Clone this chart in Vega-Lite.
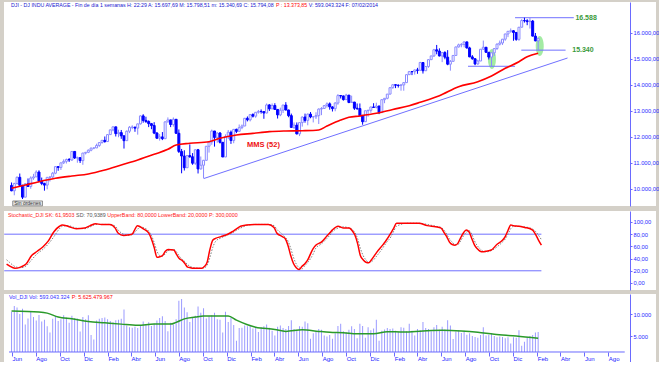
{
  "$schema": "https://vega.github.io/schema/vega-lite/v6.json",
  "background": "#d4d0c8",
  "padding": {"left": 3, "top": 2, "right": 0, "bottom": 0},
  "spacing": 4,
  "config": {
    "locale": {"number": {"decimal": ",", "thousands": ".", "grouping": [3], "currency": ["", ""]}},
    "view": {"stroke": null, "fill": "white"},
    "font": "Liberation Sans",
    "title": {"anchor": "start", "frame": "group", "fontSize": 5.25, "fontWeight": "normal", "font": "Liberation Sans"},
    "axis": {"labelFont": "Liberation Sans", "labelFontSize": 5.8, "labelColor": "#2a2aff", "domainColor": "#6a6aff", "tickColor": "#6a6aff", "grid": false, "tickSize": 2, "labelPadding": 1, "labelOverlap": false}
  },
  "datasets": {
    "px": [
      {"d":"2010-05-31","o":10136,"h":10250,"l":9914,"c":9931,"v":10500},
      {"d":"2010-06-07","o":9931,"h":10240,"l":9758,"c":10211,"v":11800},
      {"d":"2010-06-14","o":10211,"h":10482,"l":10168,"c":10450,"v":11500},
      {"d":"2010-06-21","o":10450,"h":10595,"l":10088,"c":10143,"v":10000},
      {"d":"2010-06-28","o":10143,"h":10160,"l":9614,"c":9686,"v":11200},
      {"d":"2010-07-05","o":9686,"h":10229,"l":9686,"c":10198,"v":7600},
      {"d":"2010-07-12","o":10198,"h":10405,"l":10078,"c":10097,"v":9000},
      {"d":"2010-07-19","o":10097,"h":10487,"l":10009,"c":10424,"v":10600},
      {"d":"2010-07-26","o":10424,"h":10583,"l":10353,"c":10466,"v":9300},
      {"d":"2010-08-02","o":10466,"h":10720,"l":10466,"c":10653,"v":8500},
      {"d":"2010-08-09","o":10653,"h":10719,"l":10258,"c":10303,"v":9800},
      {"d":"2010-08-16","o":10303,"h":10440,"l":10147,"c":10213,"v":8300},
      {"d":"2010-08-23","o":10213,"h":10242,"l":9936,"c":10150,"v":8700},
      {"d":"2010-08-30","o":10150,"h":10462,"l":9989,"c":10448,"v":7200},
      {"d":"2010-09-06","o":10448,"h":10491,"l":10288,"c":10462,"v":5800},
      {"d":"2010-09-13","o":10462,"h":10656,"l":10420,"c":10607,"v":8900},
      {"d":"2010-09-20","o":10607,"h":10860,"l":10570,"c":10860,"v":9500},
      {"d":"2010-09-27","o":10860,"h":10880,"l":10700,"c":10829,"v":8400},
      {"d":"2010-10-04","o":10829,"h":11010,"l":10732,"c":11006,"v":8800},
      {"d":"2010-10-11","o":11006,"h":11140,"l":10960,"c":11063,"v":9700},
      {"d":"2010-10-18","o":11063,"h":11170,"l":10980,"c":11133,"v":9200},
      {"d":"2010-10-25","o":11133,"h":11190,"l":11040,"c":11118,"v":8000},
      {"d":"2010-11-01","o":11118,"h":11452,"l":11080,"c":11445,"v":9600},
      {"d":"2010-11-08","o":11445,"h":11451,"l":11155,"c":11193,"v":9100},
      {"d":"2010-11-15","o":11193,"h":11245,"l":11010,"c":11204,"v":9000},
      {"d":"2010-11-22","o":11204,"h":11220,"l":11000,"c":11092,"v":6000},
      {"d":"2010-11-29","o":11092,"h":11390,"l":10930,"c":11382,"v":9300},
      {"d":"2010-12-06","o":11382,"h":11425,"l":11330,"c":11410,"v":8800},
      {"d":"2010-12-13","o":11410,"h":11520,"l":11380,"c":11492,"v":9700},
      {"d":"2010-12-20","o":11492,"h":11590,"l":11450,"c":11573,"v":5200},
      {"d":"2010-12-27","o":11573,"h":11600,"l":11530,"c":11578,"v":4200},
      {"d":"2011-01-03","o":11578,"h":11742,"l":11578,"c":11674,"v":8500},
      {"d":"2011-01-10","o":11674,"h":11800,"l":11620,"c":11787,"v":8900},
      {"d":"2011-01-17","o":11787,"h":11880,"l":11745,"c":11872,"v":9100},
      {"d":"2011-01-24","o":11872,"h":12020,"l":11780,"c":11824,"v":9200},
      {"d":"2011-01-31","o":11824,"h":12100,"l":11820,"c":12092,"v":8800},
      {"d":"2011-02-07","o":12092,"h":12285,"l":12080,"c":12273,"v":8400},
      {"d":"2011-02-14","o":12273,"h":12400,"l":12220,"c":12391,"v":8100},
      {"d":"2011-02-21","o":12391,"h":12391,"l":12020,"c":12130,"v":8600},
      {"d":"2011-02-28","o":12130,"h":12280,"l":11990,"c":12169,"v":8700},
      {"d":"2011-03-07","o":12169,"h":12270,"l":11930,"c":12044,"v":8900},
      {"d":"2011-03-14","o":12044,"h":12060,"l":11555,"c":11859,"v":11000},
      {"d":"2011-03-21","o":11859,"h":12250,"l":11859,"c":12221,"v":7400},
      {"d":"2011-03-28","o":12221,"h":12420,"l":12150,"c":12376,"v":7000},
      {"d":"2011-04-04","o":12376,"h":12450,"l":12300,"c":12380,"v":6900},
      {"d":"2011-04-11","o":12380,"h":12390,"l":12200,"c":12342,"v":7100},
      {"d":"2011-04-18","o":12342,"h":12510,"l":12090,"c":12505,"v":6800},
      {"d":"2011-04-25","o":12505,"h":12830,"l":12480,"c":12811,"v":7400},
      {"d":"2011-05-02","o":12811,"h":12876,"l":12550,"c":12638,"v":8300},
      {"d":"2011-05-09","o":12638,"h":12780,"l":12540,"c":12596,"v":7700},
      {"d":"2011-05-16","o":12596,"h":12640,"l":12380,"c":12512,"v":8100},
      {"d":"2011-05-23","o":12512,"h":12540,"l":12300,"c":12441,"v":7300},
      {"d":"2011-05-30","o":12441,"h":12570,"l":12110,"c":12151,"v":7800},
      {"d":"2011-06-06","o":12151,"h":12190,"l":11940,"c":11952,"v":8500},
      {"d":"2011-06-13","o":11952,"h":12110,"l":11860,"c":12004,"v":9100},
      {"d":"2011-06-20","o":12004,"h":12190,"l":11880,"c":11934,"v":9500},
      {"d":"2011-06-27","o":11934,"h":12600,"l":11930,"c":12582,"v":8400},
      {"d":"2011-07-04","o":12582,"h":12753,"l":12560,"c":12657,"v":6100},
      {"d":"2011-07-11","o":12657,"h":12657,"l":12380,"c":12480,"v":8000},
      {"d":"2011-07-18","o":12480,"h":12751,"l":12400,"c":12681,"v":7600},
      {"d":"2011-07-25","o":12681,"h":12690,"l":12120,"c":12143,"v":8800},
      {"d":"2011-08-01","o":12143,"h":12290,"l":11384,"c":11445,"v":13000},
      {"d":"2011-08-08","o":11445,"h":11540,"l":10604,"c":11269,"v":13400},
      {"d":"2011-08-15","o":11269,"h":11490,"l":10710,"c":10818,"v":11500},
      {"d":"2011-08-22","o":10818,"h":11300,"l":10818,"c":11285,"v":10400},
      {"d":"2011-08-29","o":11285,"h":11717,"l":11200,"c":11240,"v":8200},
      {"d":"2011-09-05","o":11240,"h":11380,"l":10930,"c":10992,"v":9300},
      {"d":"2011-09-12","o":10992,"h":11520,"l":10930,"c":11509,"v":9600},
      {"d":"2011-09-19","o":11509,"h":11540,"l":10597,"c":10771,"v":11700},
      {"d":"2011-09-26","o":10771,"h":11250,"l":10750,"c":10913,"v":10300},
      {"d":"2011-10-03","o":10913,"h":11120,"l":10404,"c":11103,"v":11300},
      {"d":"2011-10-10","o":11103,"h":11650,"l":11103,"c":11644,"v":9000},
      {"d":"2011-10-17","o":11644,"h":11810,"l":11400,"c":11809,"v":9500},
      {"d":"2011-10-24","o":11809,"h":12284,"l":11700,"c":12231,"v":9700},
      {"d":"2011-10-31","o":12231,"h":12231,"l":11630,"c":11983,"v":10300},
      {"d":"2011-11-07","o":11983,"h":12180,"l":11780,"c":12153,"v":8800},
      {"d":"2011-11-14","o":12153,"h":12190,"l":11750,"c":11796,"v":8700},
      {"d":"2011-11-21","o":11796,"h":11800,"l":11230,"c":11231,"v":5800},
      {"d":"2011-11-28","o":11231,"h":12100,"l":11231,"c":12019,"v":10500},
      {"d":"2011-12-05","o":12019,"h":12270,"l":11920,"c":12184,"v":8200},
      {"d":"2011-12-12","o":12184,"h":12250,"l":11735,"c":11867,"v":9200},
      {"d":"2011-12-19","o":11867,"h":12300,"l":11760,"c":12294,"v":7500},
      {"d":"2011-12-26","o":12294,"h":12320,"l":12150,"c":12218,"v":3900},
      {"d":"2012-01-02","o":12218,"h":12480,"l":12218,"c":12360,"v":6800},
      {"d":"2012-01-09","o":12360,"h":12480,"l":12300,"c":12422,"v":6900},
      {"d":"2012-01-16","o":12422,"h":12725,"l":12420,"c":12720,"v":7400},
      {"d":"2012-01-23","o":12720,"h":12790,"l":12600,"c":12660,"v":7200},
      {"d":"2012-01-30","o":12660,"h":12870,"l":12600,"c":12862,"v":7500},
      {"d":"2012-02-06","o":12862,"h":12910,"l":12750,"c":12801,"v":6700},
      {"d":"2012-02-13","o":12801,"h":12960,"l":12740,"c":12950,"v":6800},
      {"d":"2012-02-20","o":12950,"h":13040,"l":12900,"c":12983,"v":5900},
      {"d":"2012-02-27","o":12983,"h":13060,"l":12900,"c":12978,"v":7000},
      {"d":"2012-03-05","o":12978,"h":12980,"l":12700,"c":12922,"v":7200},
      {"d":"2012-03-12","o":12922,"h":13290,"l":12910,"c":13233,"v":7600},
      {"d":"2012-03-19","o":13233,"h":13260,"l":13000,"c":13081,"v":6900},
      {"d":"2012-03-26","o":13081,"h":13290,"l":13080,"c":13212,"v":6200},
      {"d":"2012-04-02","o":13212,"h":13300,"l":13040,"c":13060,"v":5100},
      {"d":"2012-04-09","o":13060,"h":13070,"l":12710,"c":12850,"v":7100},
      {"d":"2012-04-16","o":12850,"h":13130,"l":12800,"c":13029,"v":7400},
      {"d":"2012-04-23","o":13029,"h":13240,"l":12920,"c":13228,"v":6800},
      {"d":"2012-04-30","o":13228,"h":13340,"l":13020,"c":13038,"v":6600},
      {"d":"2012-05-07","o":13038,"h":13050,"l":12760,"c":12821,"v":7300},
      {"d":"2012-05-14","o":12821,"h":12900,"l":12360,"c":12369,"v":8600},
      {"d":"2012-05-21","o":12369,"h":12560,"l":12310,"c":12455,"v":6600},
      {"d":"2012-05-28","o":12455,"h":12560,"l":12100,"c":12119,"v":6400},
      {"d":"2012-06-04","o":12119,"h":12570,"l":12035,"c":12554,"v":7200},
      {"d":"2012-06-11","o":12554,"h":12790,"l":12400,"c":12767,"v":7100},
      {"d":"2012-06-18","o":12767,"h":12900,"l":12550,"c":12640,"v":8300},
      {"d":"2012-06-25","o":12640,"h":12900,"l":12450,"c":12880,"v":7900},
      {"d":"2012-07-02","o":12880,"h":12960,"l":12720,"c":12772,"v":4400},
      {"d":"2012-07-09","o":12772,"h":12800,"l":12560,"c":12777,"v":5600},
      {"d":"2012-07-16","o":12777,"h":12950,"l":12690,"c":12822,"v":6000},
      {"d":"2012-07-23","o":12822,"h":13100,"l":12500,"c":13075,"v":6600},
      {"d":"2012-07-30","o":13075,"h":13150,"l":12840,"c":13096,"v":6400},
      {"d":"2012-08-06","o":13096,"h":13230,"l":13090,"c":13207,"v":5100},
      {"d":"2012-08-13","o":13207,"h":13330,"l":13130,"c":13275,"v":4900},
      {"d":"2012-08-20","o":13275,"h":13330,"l":13050,"c":13157,"v":5200},
      {"d":"2012-08-27","o":13157,"h":13180,"l":12980,"c":13090,"v":4400},
      {"d":"2012-09-03","o":13090,"h":13340,"l":12990,"c":13306,"v":5600},
      {"d":"2012-09-10","o":13306,"h":13650,"l":13240,"c":13593,"v":7300},
      {"d":"2012-09-17","o":13593,"h":13600,"l":13480,"c":13579,"v":7800},
      {"d":"2012-09-24","o":13579,"h":13590,"l":13400,"c":13437,"v":6100},
      {"d":"2012-10-01","o":13437,"h":13660,"l":13430,"c":13610,"v":5900},
      {"d":"2012-10-08","o":13610,"h":13610,"l":13300,"c":13328,"v":6400},
      {"d":"2012-10-15","o":13328,"h":13590,"l":13320,"c":13343,"v":7200},
      {"d":"2012-10-22","o":13343,"h":13350,"l":13040,"c":13107,"v":6600},
      {"d":"2012-10-29","o":13107,"h":13290,"l":13040,"c":13093,"v":4500},
      {"d":"2012-11-05","o":13093,"h":13290,"l":12800,"c":12815,"v":7800},
      {"d":"2012-11-12","o":12815,"h":12850,"l":12471,"c":12588,"v":7300},
      {"d":"2012-11-19","o":12588,"h":13010,"l":12588,"c":13010,"v":4600},
      {"d":"2012-11-26","o":13010,"h":13050,"l":12780,"c":13026,"v":7000},
      {"d":"2012-12-03","o":13026,"h":13160,"l":12930,"c":13155,"v":6300},
      {"d":"2012-12-10","o":13155,"h":13300,"l":13120,"c":13135,"v":6700},
      {"d":"2012-12-17","o":13135,"h":13320,"l":13100,"c":13191,"v":8700},
      {"d":"2012-12-24","o":13191,"h":13200,"l":12880,"c":12938,"v":3900},
      {"d":"2012-12-31","o":12938,"h":13440,"l":12938,"c":13435,"v":6200},
      {"d":"2013-01-07","o":13435,"h":13500,"l":13300,"c":13488,"v":6500},
      {"d":"2013-01-14","o":13488,"h":13650,"l":13450,"c":13650,"v":6800},
      {"d":"2013-01-21","o":13650,"h":13900,"l":13640,"c":13896,"v":6600},
      {"d":"2013-01-28","o":13896,"h":14020,"l":13860,"c":14010,"v":6700},
      {"d":"2013-02-04","o":14010,"h":14020,"l":13880,"c":13993,"v":6200},
      {"d":"2013-02-11","o":13993,"h":14020,"l":13900,"c":13982,"v":5900},
      {"d":"2013-02-18","o":13982,"h":14040,"l":13780,"c":14001,"v":7000},
      {"d":"2013-02-25","o":14001,"h":14110,"l":13780,"c":14090,"v":6900},
      {"d":"2013-03-04","o":14090,"h":14400,"l":14080,"c":14397,"v":6100},
      {"d":"2013-03-11","o":14397,"h":14540,"l":14390,"c":14515,"v":7800},
      {"d":"2013-03-18","o":14515,"h":14530,"l":14380,"c":14512,"v":6200},
      {"d":"2013-03-25","o":14512,"h":14590,"l":14400,"c":14579,"v":5100},
      {"d":"2013-04-01","o":14579,"h":14660,"l":14430,"c":14565,"v":6600},
      {"d":"2013-04-08","o":14565,"h":14890,"l":14550,"c":14865,"v":6300},
      {"d":"2013-04-15","o":14865,"h":14870,"l":14440,"c":14548,"v":8200},
      {"d":"2013-04-22","o":14548,"h":14730,"l":14540,"c":14712,"v":6800},
      {"d":"2013-04-29","o":14712,"h":14990,"l":14660,"c":14974,"v":6600},
      {"d":"2013-05-06","o":14974,"h":15120,"l":14960,"c":15118,"v":6100},
      {"d":"2013-05-13","o":15118,"h":15390,"l":15080,"c":15354,"v":7000},
      {"d":"2013-05-20","o":15354,"h":15540,"l":15180,"c":15303,"v":7500},
      {"d":"2013-05-27","o":15303,"h":15410,"l":15100,"c":15116,"v":6400},
      {"d":"2013-06-03","o":15116,"h":15260,"l":14880,"c":15248,"v":7100},
      {"d":"2013-06-10","o":15248,"h":15300,"l":14990,"c":15070,"v":6500},
      {"d":"2013-06-17","o":15070,"h":15340,"l":14760,"c":14800,"v":8600},
      {"d":"2013-06-24","o":14800,"h":14960,"l":14551,"c":14910,"v":7400},
      {"d":"2013-07-01","o":14910,"h":15140,"l":14900,"c":15136,"v":4300},
      {"d":"2013-07-08","o":15136,"h":15470,"l":15130,"c":15464,"v":6000},
      {"d":"2013-07-15","o":15464,"h":15590,"l":15440,"c":15544,"v":6300},
      {"d":"2013-07-22","o":15544,"h":15610,"l":15450,"c":15559,"v":5700},
      {"d":"2013-07-29","o":15559,"h":15660,"l":15450,"c":15658,"v":6200},
      {"d":"2013-08-05","o":15658,"h":15660,"l":15400,"c":15425,"v":5300},
      {"d":"2013-08-12","o":15425,"h":15470,"l":15070,"c":15081,"v":5600},
      {"d":"2013-08-19","o":15081,"h":15150,"l":14970,"c":15010,"v":5000},
      {"d":"2013-08-26","o":15010,"h":15010,"l":14760,"c":14810,"v":4800},
      {"d":"2013-09-02","o":14810,"h":14970,"l":14780,"c":14922,"v":4600},
      {"d":"2013-09-09","o":14922,"h":15380,"l":14922,"c":15376,"v":5200},
      {"d":"2013-09-16","o":15376,"h":15709,"l":15360,"c":15452,"v":7000},
      {"d":"2013-09-23","o":15452,"h":15460,"l":15240,"c":15258,"v":5100},
      {"d":"2013-09-30","o":15258,"h":15260,"l":14980,"c":15073,"v":5300},
      {"d":"2013-10-07","o":15073,"h":15240,"l":14719,"c":15237,"v":5600},
      {"d":"2013-10-14","o":15237,"h":15420,"l":15120,"c":15400,"v":5000},
      {"d":"2013-10-21","o":15400,"h":15600,"l":15350,"c":15570,"v":4700},
      {"d":"2013-10-28","o":15570,"h":15710,"l":15520,"c":15616,"v":4900},
      {"d":"2013-11-04","o":15616,"h":15770,"l":15540,"c":15762,"v":4800},
      {"d":"2013-11-11","o":15762,"h":15970,"l":15700,"c":15962,"v":4500},
      {"d":"2013-11-18","o":15962,"h":16070,"l":15840,"c":16065,"v":4700},
      {"d":"2013-11-25","o":16065,"h":16175,"l":16010,"c":16086,"v":3300},
      {"d":"2013-12-02","o":16086,"h":16110,"l":15700,"c":16020,"v":4700},
      {"d":"2013-12-09","o":16020,"h":16040,"l":15700,"c":15755,"v":4600},
      {"d":"2013-12-16","o":15755,"h":16230,"l":15700,"c":16221,"v":6300},
      {"d":"2013-12-23","o":16221,"h":16530,"l":16221,"c":16479,"v":2800},
      {"d":"2013-12-30","o":16479,"h":16588,"l":16400,"c":16470,"v":3700},
      {"d":"2014-01-06","o":16470,"h":16530,"l":16300,"c":16437,"v":4600},
      {"d":"2014-01-13","o":16437,"h":16590,"l":16170,"c":16459,"v":5000},
      {"d":"2014-01-20","o":16459,"h":16500,"l":15870,"c":15880,"v":5200},
      {"d":"2014-01-27","o":15880,"h":16000,"l":15680,"c":15699,"v":5800},
      {"d":"2014-02-03","o":15697.69,"h":15798.51,"l":15340.69,"c":15794.08,"v":5930}
    ],
    "ma": [
      {"d":"2010-05-31","m":10027},{"d":"2010-07-05","m":10154},{"d":"2010-08-09","m":10281},{"d":"2010-09-20","m":10410},
      {"d":"2010-11-01","m":10500},{"d":"2010-12-13","m":10577},{"d":"2011-01-24","m":10730},{"d":"2011-03-07","m":10923},
      {"d":"2011-04-18","m":11115},{"d":"2011-05-30","m":11333},{"d":"2011-07-04","m":11525},{"d":"2011-07-25","m":11690},
      {"d":"2011-08-29","m":11757},{"d":"2011-10-17","m":11820},{"d":"2011-11-14","m":11950},{"d":"2011-12-26","m":12077},
      {"d":"2012-02-06","m":12140},{"d":"2012-03-19","m":12205},{"d":"2012-04-30","m":12230},{"d":"2012-06-11","m":12240},
      {"d":"2012-07-23","m":12270},{"d":"2012-08-13","m":12420},{"d":"2012-09-17","m":12650},{"d":"2012-10-08","m":12757},
      {"d":"2012-11-05","m":12810},{"d":"2012-12-17","m":12910},{"d":"2013-01-28","m":13060},{"d":"2013-03-11","m":13200},
      {"d":"2013-04-08","m":13335},{"d":"2013-05-27","m":13590},{"d":"2013-07-15","m":13935},{"d":"2013-09-02","m":14127},
      {"d":"2013-10-07","m":14346},{"d":"2013-11-11","m":14642},{"d":"2013-12-16","m":14896},{"d":"2014-01-06","m":15088},
      {"d":"2014-02-03","m":15218}
    ],
    "vma": [
      {"d":"2010-05-31","m":10680},{"d":"2010-08-09","m":10450},{"d":"2010-08-30","m":10200},{"d":"2010-09-27","m":9300},
      {"d":"2010-11-01","m":8900},{"d":"2010-12-13","m":8300},{"d":"2011-01-24","m":8000},{"d":"2011-03-07","m":7700},
      {"d":"2011-04-18","m":7450},{"d":"2011-05-30","m":7700},{"d":"2011-07-11","m":7700},{"d":"2011-07-25","m":8100},
      {"d":"2011-08-15","m":8900},{"d":"2011-09-12","m":9300},{"d":"2011-10-03","m":9550},{"d":"2011-12-05","m":9550},
      {"d":"2011-12-26","m":8600},{"d":"2012-02-13","m":7000},{"d":"2012-04-02","m":6500},{"d":"2012-04-30","m":6050},
      {"d":"2012-06-11","m":6400},{"d":"2012-07-23","m":6050},{"d":"2012-08-20","m":5850},{"d":"2012-09-24","m":5750},
      {"d":"2012-10-29","m":5530},{"d":"2012-12-10","m":5530},{"d":"2013-01-14","m":5980},{"d":"2013-02-25","m":5900},
      {"d":"2013-04-15","m":6130},{"d":"2013-06-03","m":6280},{"d":"2013-07-22","m":6130},{"d":"2013-09-02","m":5830},
      {"d":"2013-10-14","m":5380},{"d":"2013-12-09","m":5000},{"d":"2014-02-03","m":4480}
    ],
    "st": [
      {"d":"2010-05-31","k":31,"dd":38},{"d":"2010-06-07","k":28,"dd":34},{"d":"2010-06-21","k":24,"dd":27},{"d":"2010-07-05","k":26,"dd":25},
      {"d":"2010-07-19","k":31,"dd":28},{"d":"2010-08-02","k":45,"dd":38},{"d":"2010-08-16","k":52,"dd":48},{"d":"2010-08-30","k":59,"dd":55},
      {"d":"2010-09-13","k":69,"dd":64},{"d":"2010-09-27","k":84,"dd":76},{"d":"2010-10-11","k":93,"dd":89},{"d":"2010-10-18","k":95,"dd":93},
      {"d":"2010-11-01","k":93,"dd":94},{"d":"2010-11-22","k":89,"dd":90},{"d":"2010-12-13","k":90,"dd":89},{"d":"2010-12-27","k":94,"dd":92},
      {"d":"2011-01-10","k":97,"dd":96},{"d":"2011-01-24","k":96,"dd":96},{"d":"2011-02-14","k":96,"dd":96},{"d":"2011-02-28","k":90,"dd":93},
      {"d":"2011-03-07","k":82,"dd":87},{"d":"2011-03-21","k":78,"dd":80},{"d":"2011-04-04","k":79,"dd":78},{"d":"2011-04-11","k":80,"dd":79},
      {"d":"2011-04-25","k":94,"dd":88},{"d":"2011-05-02","k":92,"dd":92},{"d":"2011-05-09","k":89,"dd":91},{"d":"2011-05-23","k":82,"dd":85},
      {"d":"2011-05-30","k":72,"dd":78},{"d":"2011-06-06","k":58,"dd":66},{"d":"2011-06-13","k":42,"dd":52},{"d":"2011-06-20","k":43,"dd":45},
      {"d":"2011-06-27","k":45,"dd":44},{"d":"2011-07-04","k":52,"dd":48},{"d":"2011-07-11","k":55,"dd":53},{"d":"2011-07-25","k":54,"dd":55},
      {"d":"2011-08-01","k":47,"dd":51},{"d":"2011-08-08","k":40,"dd":44},{"d":"2011-08-15","k":37,"dd":39},{"d":"2011-08-22","k":32,"dd":35},
      {"d":"2011-08-29","k":26,"dd":30},{"d":"2011-09-05","k":25,"dd":27},{"d":"2011-09-12","k":24,"dd":25},{"d":"2011-10-03","k":24,"dd":24},
      {"d":"2011-10-10","k":27,"dd":25},{"d":"2011-10-17","k":34,"dd":29},{"d":"2011-10-24","k":55,"dd":42},{"d":"2011-10-31","k":70,"dd":58},
      {"d":"2011-11-07","k":73,"dd":68},{"d":"2011-11-21","k":76,"dd":74},{"d":"2011-12-05","k":79,"dd":78},{"d":"2011-12-19","k":84,"dd":82},
      {"d":"2011-12-26","k":87,"dd":85},{"d":"2012-01-09","k":93,"dd":90},{"d":"2012-01-23","k":95,"dd":94},{"d":"2012-02-13","k":96,"dd":96},
      {"d":"2012-03-19","k":96,"dd":96},{"d":"2012-04-02","k":91,"dd":94},{"d":"2012-04-09","k":82,"dd":88},{"d":"2012-04-23","k":76,"dd":80},
      {"d":"2012-04-30","k":73,"dd":75},{"d":"2012-05-07","k":62,"dd":69},{"d":"2012-05-14","k":45,"dd":57},{"d":"2012-05-21","k":32,"dd":42},
      {"d":"2012-05-28","k":25,"dd":31},{"d":"2012-06-04","k":22,"dd":25},{"d":"2012-06-11","k":27,"dd":23},{"d":"2012-06-18","k":31,"dd":28},
      {"d":"2012-06-25","k":37,"dd":33},{"d":"2012-07-09","k":56,"dd":47},{"d":"2012-07-16","k":62,"dd":57},{"d":"2012-07-30","k":67,"dd":64},
      {"d":"2012-08-13","k":77,"dd":73},{"d":"2012-08-20","k":82,"dd":78},{"d":"2012-08-27","k":87,"dd":84},{"d":"2012-09-10","k":93,"dd":90},
      {"d":"2012-09-24","k":90,"dd":92},{"d":"2012-10-08","k":90,"dd":90},{"d":"2012-10-15","k":86,"dd":88},{"d":"2012-10-22","k":79,"dd":83},
      {"d":"2012-10-29","k":65,"dd":73},{"d":"2012-11-05","k":45,"dd":57},{"d":"2012-11-12","k":38,"dd":45},{"d":"2012-11-19","k":34,"dd":38},
      {"d":"2012-11-26","k":33,"dd":34},{"d":"2012-12-03","k":38,"dd":35},{"d":"2012-12-17","k":51,"dd":45},{"d":"2012-12-31","k":62,"dd":57},
      {"d":"2013-01-07","k":68,"dd":64},{"d":"2013-01-21","k":82,"dd":76},{"d":"2013-01-28","k":90,"dd":85},{"d":"2013-02-04","k":98,"dd":93},
      {"d":"2013-03-04","k":98,"dd":98},{"d":"2013-04-01","k":98,"dd":98},{"d":"2013-04-22","k":94,"dd":96},{"d":"2013-05-13","k":92,"dd":93},
      {"d":"2013-05-27","k":90,"dd":91},{"d":"2013-06-03","k":83,"dd":87},{"d":"2013-06-10","k":76,"dd":80},{"d":"2013-06-17","k":67,"dd":72},
      {"d":"2013-06-24","k":63,"dd":67},{"d":"2013-07-01","k":62,"dd":63},{"d":"2013-07-08","k":65,"dd":63},{"d":"2013-07-15","k":74,"dd":69},
      {"d":"2013-07-22","k":82,"dd":77},{"d":"2013-07-29","k":87,"dd":83},{"d":"2013-08-05","k":84,"dd":86},{"d":"2013-08-12","k":73,"dd":80},
      {"d":"2013-08-19","k":62,"dd":69},{"d":"2013-08-26","k":56,"dd":61},{"d":"2013-09-02","k":52,"dd":56},{"d":"2013-09-09","k":51,"dd":52},
      {"d":"2013-09-16","k":52,"dd":51},{"d":"2013-09-30","k":54,"dd":53},{"d":"2013-10-14","k":63,"dd":59},{"d":"2013-10-28","k":70,"dd":67},
      {"d":"2013-11-04","k":76,"dd":72},{"d":"2013-11-11","k":86,"dd":80},{"d":"2013-11-18","k":95,"dd":89},{"d":"2013-11-25","k":94,"dd":93},
      {"d":"2013-12-09","k":93,"dd":93},{"d":"2013-12-23","k":91,"dd":92},{"d":"2014-01-06","k":89,"dd":90},{"d":"2014-01-13","k":86,"dd":88},
      {"d":"2014-01-20","k":79,"dd":84},{"d":"2014-01-27","k":70,"dd":78},{"d":"2014-02-03","k":61.95,"dd":70.94}
    ],
    "bands": [
      {"d1":"2010-05-25","d2":"2014-02-03","b":80},
      {"d1":"2010-05-25","d2":"2014-02-03","b":20}
    ],
    "hl": [
      {"d1":"2013-12-06","d2":"2014-05-05","p":16588},
      {"d1":"2013-12-22","d2":"2014-04-14","p":15340},
      {"d1":"2013-08-08","d2":"2013-12-06","p":14720}
    ],
    "tr": [
      {"d":"2011-10-04","p":10404},
      {"d":"2014-04-19","p":15038}
    ],
    "ell": [
      {"d":"2013-10-08","p":15000},
      {"d":"2014-02-07","p":15500}
    ],
    "lab": [
      {"d":"2014-05-09","p":16588,"t":"16.588"},
      {"d":"2014-05-01","p":15340,"t":"15.340"}
    ],
    "mms": [
      {"d":"2012-01-22","p":11690,"t":"MMS (52)"}
    ],
    "btn": [
      {"d1":"2010-06-03","d2":"2010-08-18","dm":"2010-07-11","p1":9350,"p2":9540,"pm":9445,"t":"Sin órdenes"}
    ]
  },
  "vconcat": [
    {
      "title": {"text": "DJI - DJ INDU AVERAGE - Fin de día 1 semanas H: 22:29 A: 15.697,69 M: 15.798,51 m: 15.340,69 C: 15.794,08", "color": "#2020d0", "dx": 7, "offset": -6.5},
      "vconcat": [
        {
          "title": {"text": "P : 13.373,85", "color": "#ff0000", "dx": 272, "offset": -6.5},
          "vconcat": [
            {
              "width": 652,
              "height": 204,
              "title": {"text": "V: 593.043.324 F: 07/02/2014", "color": "#2020d0", "dx": 304.7, "offset": -6.5},
              "layer": [
                {
                  "data": {"name": "ell"},
                  "mark": {"type": "point", "shape": "M-0.4,0 A0.4,1 0 1,0 0.4,0 A0.4,1 0 1,0 -0.4,0 Z", "size": 400, "filled": true, "color": "#66dd66", "opacity": 0.6, "strokeWidth": 0},
                  "encoding": {
                    "x": {"field": "d", "type": "temporal", "title": null, "scale": {"type": "utc", "domain": [{"year": 2010, "month": 5, "date": 24, "hours": 12, "utc": true}, {"year": 2014, "month": 11, "date": 18, "utc": true}]}, "axis": null},
                    "y": {"field": "p", "type": "quantitative", "title": null, "scale": {"domain": [9346, 17192], "zero": false, "nice": false},
                      "axis": {"orient": "right", "offset": -26, "tickCount": 100, "labelOverlap": false, "values": [10000, 11000, 12000, 13000, 14000, 15000, 16000], "format": ",.2f"}}
                  }
                },
                {
                  "data": {"name": "hl"},
                  "mark": {"type": "rule", "color": "#7070ff", "strokeWidth": 1},
                  "encoding": {
                    "x": {"field": "d1", "type": "temporal", "title": null},
                    "x2": {"field": "d2"},
                    "y": {"field": "p", "type": "quantitative", "title": null}
                  }
                },
                {
                  "data": {"name": "tr"},
                  "mark": {"type": "line", "color": "#7070ff", "strokeWidth": 1},
                  "encoding": {
                    "x": {"field": "d", "type": "temporal", "title": null},
                    "y": {"field": "p", "type": "quantitative", "title": null}
                  }
                },
                {
                  "data": {"name": "px"},
                  "mark": {"type": "rule", "strokeWidth": 1},
                  "encoding": {
                    "x": {"field": "d", "type": "temporal", "title": null},
                    "y": {"field": "l", "type": "quantitative", "title": null},
                    "y2": {"field": "h"},
                    "color": {"condition": {"test": "datum.c >= datum.o", "value": "#8a8aff"}, "value": "#0000ff"}
                  }
                },
                {
                  "data": {"name": "px"},
                  "mark": {"type": "bar", "size": 2, "strokeWidth": 1},
                  "encoding": {
                    "x": {"field": "d", "type": "temporal", "title": null},
                    "y": {"field": "o", "type": "quantitative", "title": null},
                    "y2": {"field": "c"},
                    "fill": {"condition": {"test": "datum.c >= datum.o", "value": "#ffffff"}, "value": "#0000ff"},
                    "stroke": {"condition": {"test": "datum.c >= datum.o", "value": "#8a8aff"}, "value": "#0000ff"}
                  }
                },
                {
                  "data": {"name": "ma"},
                  "mark": {"type": "line", "color": "#ff0000", "strokeWidth": 1.6, "interpolate": "monotone"},
                  "encoding": {
                    "x": {"field": "d", "type": "temporal", "title": null},
                    "y": {"field": "m", "type": "quantitative", "title": null}
                  }
                },
                {
                  "data": {"name": "lab"},
                  "mark": {"type": "text", "align": "left", "baseline": "middle", "fontSize": 7, "fontWeight": "bold", "color": "#3a9a3a"},
                  "encoding": {
                    "x": {"field": "d", "type": "temporal", "title": null},
                    "y": {"field": "p", "type": "quantitative", "title": null},
                    "text": {"field": "t"}
                  }
                },
                {
                  "data": {"name": "mms"},
                  "mark": {"type": "text", "align": "left", "baseline": "middle", "fontSize": 7.5, "fontWeight": "bold", "color": "#ee1111"},
                  "encoding": {
                    "x": {"field": "d", "type": "temporal", "title": null},
                    "y": {"field": "p", "type": "quantitative", "title": null},
                    "text": {"field": "t"}
                  }
                },
                {
                  "data": {"name": "btn"},
                  "mark": {"type": "rect", "fill": "#e4e4e4", "stroke": "#7a7a7a", "strokeWidth": 0.8},
                  "encoding": {
                    "x": {"field": "d1", "type": "temporal", "title": null},
                    "x2": {"field": "d2"},
                    "y": {"field": "p1", "type": "quantitative", "title": null},
                    "y2": {"field": "p2"}
                  }
                },
                {
                  "data": {"name": "btn"},
                  "mark": {"type": "text", "align": "center", "baseline": "middle", "fontSize": 5, "color": "#333333"},
                  "encoding": {
                    "x": {"field": "dm", "type": "temporal", "title": null},
                    "y": {"field": "pm", "type": "quantitative", "title": null},
                    "text": {"field": "t"}
                  }
                }
              ]
            }
          ]
        }
      ]
    },
    {
      "title": {"text": "Stochastic_DJI SK: 61,9503", "color": "#ff2020", "fontSize": 5.35, "dx": 4, "offset": -7},
      "vconcat": [
        {
          "title": {"text": "SD: 70,9389", "color": "#555555", "fontSize": 5.35, "dx": 72.1, "offset": -7},
          "vconcat": [
            {
              "width": 652,
              "height": 79,
              "title": {"text": "UpperBand: 80,0000 LowerBand: 20,0000 P: 300,0000", "color": "#ff2020", "fontSize": 5.35, "dx": 103.3, "offset": -7},
              "layer": [
                {
                  "data": {"name": "bands"},
                  "mark": {"type": "rule", "color": "#7070ff", "strokeWidth": 1},
                  "encoding": {
                    "x": {"field": "d1", "type": "temporal", "title": null, "scale": {"type": "utc", "domain": [{"year": 2010, "month": 5, "date": 24, "hours": 12, "utc": true}, {"year": 2014, "month": 11, "date": 18, "utc": true}]}, "axis": null},
                    "x2": {"field": "d2"},
                    "y": {"field": "b", "type": "quantitative", "title": null, "scale": {"domain": [-11.5, 118], "zero": false, "nice": false},
                      "axis": {"orient": "right", "offset": -26, "tickCount": 100, "labelOverlap": false, "values": [0, 20, 40, 60, 80, 100], "format": ".2f"}}
                  }
                },
                {
                  "data": {"name": "st"},
                  "mark": {"type": "line", "color": "#808080", "strokeWidth": 1, "strokeDash": [1.5, 1.5], "interpolate": "monotone"},
                  "encoding": {
                    "x": {"field": "d", "type": "temporal", "title": null},
                    "y": {"field": "dd", "type": "quantitative", "title": null}
                  }
                },
                {
                  "data": {"name": "st"},
                  "mark": {"type": "line", "color": "#ff0000", "strokeWidth": 1.5, "interpolate": "monotone"},
                  "encoding": {
                    "x": {"field": "d", "type": "temporal", "title": null},
                    "y": {"field": "k", "type": "quantitative", "title": null}
                  }
                }
              ]
            }
          ]
        }
      ]
    },
    {
      "title": {"text": "Vol_DJI Vol: 593.043.324", "color": "#3030ff", "fontSize": 5.4, "dx": 5, "offset": -6},
      "vconcat": [
        {
          "width": 652,
          "height": 68,
          "title": {"text": "P: 5.625.479.967", "color": "#ff0000", "fontSize": 5.4, "dx": 67.7, "offset": -6},
          "layer": [
            {
              "data": {"name": "px"},
              "mark": {"type": "bar", "size": 1, "color": "#9a9aff"},
              "encoding": {
                "x": {"field": "d", "type": "temporal", "title": null,
                  "scale": {"type": "utc", "domain": [{"year": 2010, "month": 5, "date": 24, "hours": 12, "utc": true}, {"year": 2014, "month": 11, "date": 18, "utc": true}]},
                  "axis": {"orient": "bottom", "offset": -10, "domain": false, "tickCount": 100, "labelOverlap": false, "labelAlign": "left", "labelPadding": -1, "tickSize": 4, "labelFontSize": 6, "labelColor": "#1a1aff",
                    "values": [
                      {"year": 2010, "month": 6, "date": 1, "utc": true}, {"year": 2010, "month": 8, "date": 1, "utc": true}, {"year": 2010, "month": 10, "date": 1, "utc": true}, {"year": 2010, "month": 12, "date": 1, "utc": true},
                      {"year": 2011, "month": 2, "date": 1, "utc": true}, {"year": 2011, "month": 4, "date": 1, "utc": true}, {"year": 2011, "month": 6, "date": 1, "utc": true}, {"year": 2011, "month": 8, "date": 1, "utc": true}, {"year": 2011, "month": 10, "date": 1, "utc": true}, {"year": 2011, "month": 12, "date": 1, "utc": true},
                      {"year": 2012, "month": 2, "date": 1, "utc": true}, {"year": 2012, "month": 4, "date": 1, "utc": true}, {"year": 2012, "month": 6, "date": 1, "utc": true}, {"year": 2012, "month": 8, "date": 1, "utc": true}, {"year": 2012, "month": 10, "date": 1, "utc": true}, {"year": 2012, "month": 12, "date": 1, "utc": true},
                      {"year": 2013, "month": 2, "date": 1, "utc": true}, {"year": 2013, "month": 4, "date": 1, "utc": true}, {"year": 2013, "month": 6, "date": 1, "utc": true}, {"year": 2013, "month": 8, "date": 1, "utc": true}, {"year": 2013, "month": 10, "date": 1, "utc": true}, {"year": 2013, "month": 12, "date": 1, "utc": true},
                      {"year": 2014, "month": 2, "date": 1, "utc": true}, {"year": 2014, "month": 4, "date": 1, "utc": true}, {"year": 2014, "month": 6, "date": 1, "utc": true}, {"year": 2014, "month": 8, "date": 1, "utc": true}
                    ],
                    "labelExpr": "['Ene','Feb','Mar','Abr','May','Jun','Jul','Ago','Sep','Oct','Nov','Dic'][utcmonth(datum.value)]"}},
                "y": {"field": "v", "type": "quantitative", "title": null, "scale": {"domain": [-909, 14547], "zero": false, "nice": false},
                  "axis": {"orient": "right", "offset": -26, "tickCount": 100, "labelOverlap": false, "values": [5000, 10000], "format": ",d"}},
                "y2": {"datum": 1364}
              }
            },
            {
              "data": {"name": "vma"},
              "mark": {"type": "line", "color": "#2a9a2a", "strokeWidth": 1.5, "interpolate": "monotone"},
              "encoding": {
                "x": {"field": "d", "type": "temporal", "title": null},
                "y": {"field": "m", "type": "quantitative", "title": null}
              }
            },
            {
              "data": {"values": [{}]},
              "mark": {"type": "rule", "color": "#6a6aff", "strokeWidth": 1},
              "encoding": {
                "x": {"datum": {"year": 2010, "month": 5, "date": 24, "hours": 12, "utc": true}, "type": "temporal"},
                "x2": {"datum": {"year": 2014, "month": 9, "date": 12, "utc": true}},
                "y": {"datum": 1364, "type": "quantitative"}
              }
            }
          ]
        }
      ]
    }
  ]
}
